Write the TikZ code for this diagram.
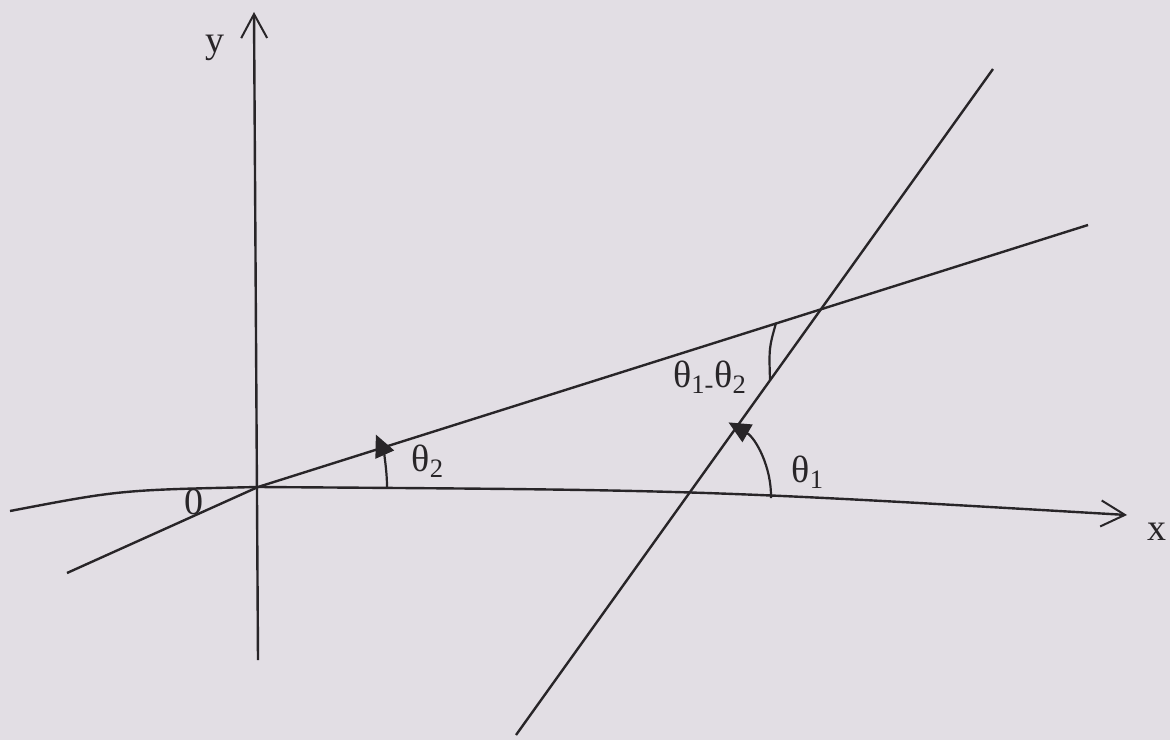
\documentclass[tikz,border=0pt]{standalone}
\usepackage{fontspec}
\setmainfont{Liberation Serif}
\usetikzlibrary{arrows.meta}
\definecolor{paper}{RGB}{226,222,228}
\definecolor{ink}{RGB}{40,37,40}
\begin{document}
\begin{tikzpicture}[x=0.5pt,y=0.5pt,
  line/.style={draw=ink,line width=1.2pt},
  axis/.style={line,-{Straight Barb[length=12pt,width=13pt,line width=1pt]}},
  angarc/.style={line,line width=1.1pt,-{Triangle[length=11pt,width=10pt]}},
  lbl/.style={text=ink,font=\fontsize{19}{22}\selectfont,inner sep=0pt}]
\fill[paper] (0,0) rectangle (1170,740);
\useasboundingbox (0,0) rectangle (1170,740);
% key points
\coordinate (O) at (258,253);
\coordinate (P) at (686,244);
\coordinate (Q) at (822,431.5);
\coordinate (xl) at (10,229);
\coordinate (xr) at (1127,225);
\coordinate (yb) at (258,80);
\coordinate (yt) at (254,728);
\coordinate (l1b) at (516,5);
\coordinate (l1t) at (993,671);
\coordinate (l2b) at (67,167);
\coordinate (l2t) at (1088,515);
\coordinate (A) at (776,417);
\coordinate (B) at (770,360);
% axes
\draw[line] (xl) .. controls (120,250) .. (O);
\draw[axis] (O) .. controls (700,250) .. (xr);
\draw[axis] (yb) -- (yt);
% lines
\draw[line] (l2b) -- (O) -- (l2t);
\draw[line] (l1b) -- (l1t);
% angle arcs
\draw[angarc] ([shift={(-0.5:129)}]O) arc[start angle=-0.5,end angle=24,radius=129];
\draw[angarc] ([shift={(-1.5:85)}]P) arc[start angle=-1.5,end angle=60,radius=85];
\draw[line,line width=1.1pt] (A) .. controls (769,392) .. (B);
% labels
\node[lbl] (ylab) at (215,692) {y};
\node[lbl] (xlab) at (1157,208) {x};
\node[lbl] (olab) at (194,238) {0};
\node[lbl] (t2) at (428,279) {θ\textsubscript{2}};
\node[lbl] (t1) at (808,268) {θ\textsubscript{1}};
\node[lbl] (t12) at (710,363) {θ\textsubscript{1-}θ\textsubscript{2}};
\end{tikzpicture}
\end{document}
